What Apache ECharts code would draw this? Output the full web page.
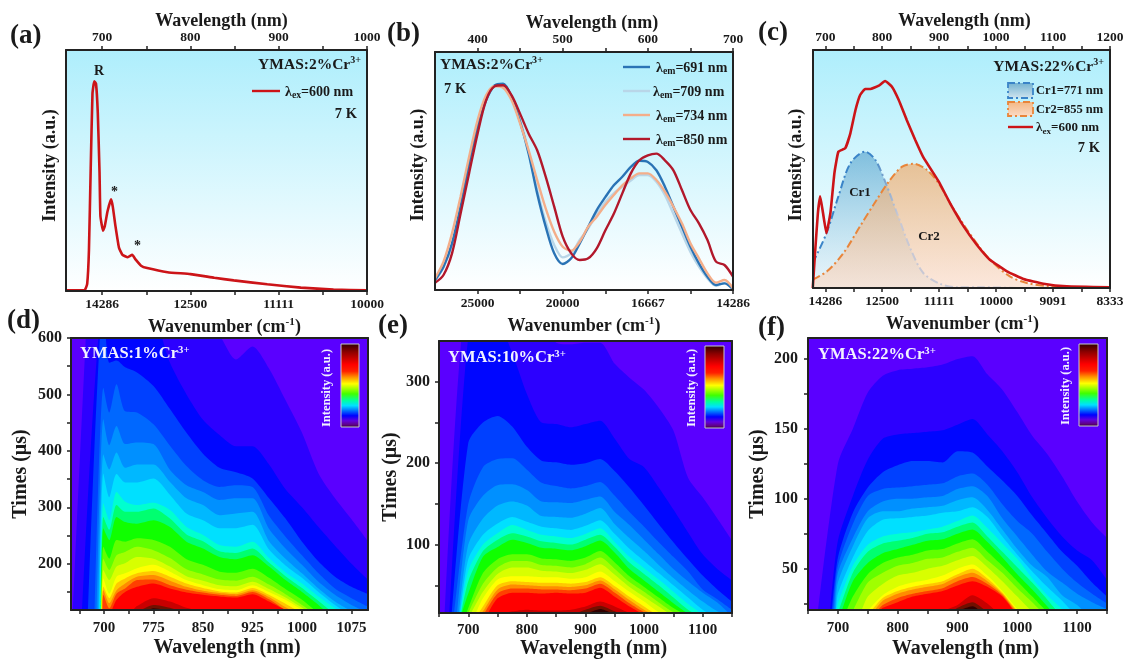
<!DOCTYPE html>
<html><head><meta charset="utf-8">
<style>html,body{margin:0;padding:0;background:#fff}#c{width:1124px;height:660px}</style>
<script src="https://cdn.jsdelivr.net/npm/echarts@6/dist/echarts.min.js"></script>
</head><body><div id="c"></div>
<script>
// ---------- spectra (wavelength nm, intensity %) ----------
const curveA = [[660,.3],[680,.3],[683,3],[685,17],[687,51],[689,82],[691,87],[693,86],[695,74],[697,49],[698,31],[701,25],[703,27],[706,33],[710,38],[712,35],[715,27],[719,18],[723,15],[729,14],[734,15],[738,13],[744,10.5],[751,9.5],[774,7.8],[800,7],[827,5.5],[849,4.4],[887,2.8],[925,1.4],[962,.6],[1000,.3]];
const wavelengthsB = [350,360,370,380,390,400,410,420,430,440,450,460,470,480,490,500,510,520,530,540,550,560,570,580,590,600,610,620,630,640,650,660,670,680,690,700];
const em691 = [4.2,9.8,19.6,35,53,68.5,79.7,86,86.7,81,70.6,57.3,40.6,26.6,15.4,10.9,13.3,19.6,26.6,33.6,39,44,47.6,51.7,54.3,53.8,50.3,43.4,35,26.6,18.2,11.2,5.6,2.1,2.8,.3];
const em709 = [4,9.5,19,35,53,68,79.7,85.6,86,81,71.5,58,42,28.7,18.9,13.7,15.4,21,25.9,32,37,40.6,43.4,46,48.3,48.3,45.5,39.9,32,23.8,16,9.8,4.9,1.8,3,.3];
const em734 = [4.9,11.9,23.8,39.2,55.9,71.3,81.8,85.6,85,79.7,69.9,58.7,46.2,34.3,24.5,18.2,16.5,20.3,26.6,30.8,35.7,39.9,44,46.9,49,49,46.2,41.3,35,28,19.6,13.3,7,3.1,4.2,.7];
const em850 = [3,6.3,15.4,32,49,65.7,79.7,85.6,86,81.8,74,65.7,58.7,47.6,35,22.4,15.4,12.6,13.3,17.5,25,32,40.6,49,54.5,56.6,57.3,54.5,50.3,42,33.6,28,21,11.9,10.5,5.6];
const curveC = [[678,0],[682,14.7],[687,31.5],[691,38.5],[696,31.5],[702,23],[709,31.5],[716,48.3],[723,57.3],[735,58.7],[744,65],[753,74.8],[761,81],[770,83.6],[779,83.6],[794,85],[805,87],[817,84.6],[829,79],[843,70.6],[858,62.2],[872,55],[899,44.8],[919,35.7],[943,25.9],[966,18.2],[989,11.9],[1019,7],[1048,3.8],[1083,1.8],[1124,.7],[1200,.3]];
const cr1 = [[678,10.5],[702,23],[723,38.5],[744,52.4],[770,57.3],[788,53.8],[805,44.8],[826,31.5],[849,16.8],[872,6.3],[902,1.7],[931,.3],[978,.3],[1036,0]];
const cr2 = [[678,3.5],[703,7],[732,14.7],[761,25.9],[790,37],[814,45.5],[835,51],[855,52.2],[878,49.7],[899,44],[919,35.7],[943,26.6],[972,16.8],[995,10.5],[1024,4.9],[1054,2.1],[1094,.7],[1153,.1]];

// ---------- decay maps: wavelength columns, and per contour [start wavelength on the floor, times at later columns...] ----------
const columnsD = [699,708,719,732,750,775,800,825,850,875,900,925,950,975,1000,1025,1050,1075,1100];
const contoursD = [
[653,1085,650,650,650,650,650,650,650,640,605,562,585,546,490,432,360,316,279,240],
[667,662,650,650,650,650,640,556,500,455,428,408,408,376,332,300,265,232,200,172],
[676,660,556,560,548,539,515,474,432,395,370,362,351,316,280,239,204,177,159,146],
[686,512,468,518,470,468,447,409,373,348,336,339,336,285,248,215,183,156,139,124],
[689,456,410,444,412,415,412,366,339,327,313,316,316,262,227,198,168,145,127,113],
[691.5,394,367,397,370,376,376,345,316,304,286,289,292,240,209,183,156,133,116,105],
[693,360,318,359,344,344,351,322,289,277,263,263,269,225,197,175,150,127,108],
[694,307,277,327,310,304,308,295,265,251,233,230,239,210,185,165,142,121,100],
[695,283,260,304,292,292,298,280,252,240,222,219,227,202,178,157,134,110],
[695.5,263,242,283,274,271,277,265,239,227,212,208,215,195,171,150,127,100],
[696,230,209,242,239,245,242,230,208,198,186,184,191,175,155,136,113,100],
[696,209,189,215,221,230,224,210,190,181,172,170,177,163,146,127,108,100],
[696.5,189,171,195,201,212,209,195,178,170,162,160,168,155,140,122,104],
[696.5,174,147,177,183,192,198,186,171,162,155,153,162,150,136,118,100],
[697,159,139,165,174,183,187,177,165,157,151,149,157,145,129,112],
[697,153,130,153,165,177,180,170,159,152,148,146,153,141,123,108],
[698,145,121,147,156,171,172,162,154,149,145,143,150,137,118,105],
[712,136,150,159,165,156,149,145,142,140,146,133,118,105],
[744,125,139,133,122,116,110],
[756,127,122,112],
[768,121,116,110]];
const columnsE = [700,725,750,775,800,825,850,875,900,925,950,975,1000,1025,1050,1075,1100,1125,1150];
const contoursE = [
[660,408,380,380,380,380,380,348,346,348,348,322,305,290,268,240,182,158,132,105],
[668,355,370,370,335,285,250,248,244,248,252,230,205,195,170,143,115,88,70,56],
[672,225,250,258,245,220,203,201,198,200,205,190,170,148,125,103,82,62,45,30],
[676,150,195,205,206,192,176,172,169,172,177,160,140,122,103,85,67,45,33,20],
[681,130,160,173,174,167,153,152,151,155,159,140,124,106,88,70,55,41,29,12],
[684,100,132,148,153,148,135,134,133,138,145,125,108,92,75,59,44,30,18,10],
[686,82,112,126,134,128,122,120,118,123,130,113,95,80,65,50,35,20,10],
[687,68,100,114,124,118,112,110,108,113,120,103,85,71,57,42,27,14],
[688,55,92,106,114,110,104,102,100,106,112,97,78,64,50,35,20,10],
[689,40,85,97,106,102,96,95,93,98,105,90,70,56,42,28,15],
[697,22,65,82,88,88,83,82,80,84,92,78,61,48,35,22,12],
[700,52,72,80,80,75,74,72,76,84,70,54,42,29,17,10],
[705,42,64,72,72,68,67,65,69,76,63,48,36,24,12],
[713,34,57,61,61,60,60,58,60,67,55,42,30,17,10],
[718,24,50,55,54,53,53,52,54,60,49,36,24,12],
[722,18,45,51,50,49,49,48,50,56,45,32,20,10],
[728,40,46,46,45,45,44,46,52,41,28,17,10],
[734,34,41,41,40,41,40,41,47,36,24,14],
[760,18,20,19,19,20,24,30,24,16,10],
[885,20,25,18,10],
[905,21,14]];
const columnsF = [700,725,750,775,800,825,850,875,900,925,950,975,1000,1025,1050,1075,1100,1125,1150];
const contoursF = [
[667,125,150,176,188,192,193,194,196,200,202,189,178,162,145,132,116,98,83,72],
[687,70,102,128,143,146,147,148,149,153,157,146,134,119,101,86,73,63,56,42],
[690,58,90,108,119,124,127,127,126,134,133,123,113,102,88,75,62,52,40,30],
[692,52,82,102,107,108,109,110,111,116,118,110,96,84,75,62,50,40,32,25],
[694,47,72,91,98,100,100,101,102,107,109,102,86,73,60,48,40,32,26,21],
[696,40,66,86,91,91,93,94,95,99,101,92,78,64,52,44,31,24,14,10],
[697,32,58,77,85,86,87,88,90,91,94,87,73,60,48,37,27,16,10],
[698,25,52,67,73,75,76,78,80,84,88,79,68,57,43,31,21,10],
[702,47,62,68,70,72,75,76,80,83,73,62,51,40,28,15],
[707,41,54,61,64,67,70,71,75,78,69,58,46,35,23,10],
[715,30,46,54,58,60,63,64,68,71,62,52,41,30,19,10],
[726,40,47,52,54,57,58,62,65,56,47,36,26,15],
[740,30,39,45,47,50,52,56,59,51,41,30,19,10],
[751,31,37,40,42,45,50,53,45,34,21,10],
[757,29,34,37,39,41,46,50,43,33,20,10],
[762,27,32,35,37,39,44,47,41,32,19,10],
[767,24,29,32,34,36,41,44,39,31,18,10],
[771,22,26,30,32,34,38,41,37,30,17,10],
[880,24,31,25,15],
[895,22,26,19,12],
[905,23,15]];
const levelColors = ['#2c00ff','#0006ff','#0040ff','#0068ff','#0090ff','#00b8ff','#00e0ff','#00ffd0','#00ff70','#10ff00','#60ff00','#a0ff00','#d8ff00','#ffff00','#ffc800','#ff8c00','#ff4000','#ff0000','#c80000','#701000','#300000'];

// ---------- tick labels ----------
const labelsA = [700,800,900,1000], ticksA = [700,750,800,850,900,950,1000];
const labelsB = [400,500,600,700], ticksB = [400,450,500,550,600,650,700];
const labelsC = [700,800,900,1000,1100,1200], ticksC = [700,750,800,850,900,950,1000,1050,1100,1150,1200];
const labelsDx = [700,775,850,925,1000,1075], ticksDx = [662.5,700,737.5,775,812.5,850,887.5,925,962.5,1000,1037.5,1075];
const labelsDy = [200,300,400,500,600], ticksDy = [150,200,250,300,350,400,450,500,550,600];
const labelsEx = [700,800,900,1000,1100], ticksEx = [650,700,750,800,850,900,950,1000,1050,1100,1150];
const labelsEy = [100,200,300], ticksEy = [50,100,150,200,250,300];
const labelsFy = [50,100,150,200], ticksFy = [25,50,75,100,125,150,175,200];

const SERIF = '"Liberation Serif","Times New Roman",serif';
const INK = '#1a1a1a';
const box = [
 {l:66,t:50,r:367,b:291},{l:435,t:52,r:733,b:290},{l:813,t:50,r:1110,b:288},
 {l:71,t:338,r:368,b:610},{l:439,t:341,r:732,b:613},{l:808,t:338,r:1107,b:610}];
const skyFill = {type:'linear',x:0,y:0,x2:0,y2:1,colorStops:[{offset:0,color:'#aeeefc'},{offset:1,color:'#ffffff'}]};
const grid = box.map((g,i)=>({left:g.l,top:g.t,width:g.r-g.l,height:g.b-g.t,show:true,borderWidth:0,
  outerBoundsMode:'none',containLabel:false,backgroundColor:i<3?skyFill:'#5a00ff'}));

const frame = {show:true,onZero:false,lineStyle:{color:'#222',width:2}};
const nameRich = size=>({a:{fontFamily:SERIF,fontWeight:'bold',fontSize:size,color:INK},
  s:{fontFamily:SERIF,fontWeight:'bold',fontSize:size*0.62,color:INK,verticalAlign:'top',lineHeight:size+2}});
function valueAxis(extra){
  return Object.assign({type:'value',scale:true,splitLine:{show:false},z:10,axisLine:frame},extra);
}
function xPair(i,min,max,ticks,labels,opts){
  const wn = v=>String(Math.round(1e7/v));
  return [
   valueAxis({gridIndex:i,min,max,position:'bottom',name:opts.bottomName,nameLocation:'middle',nameGap:opts.gap,
     nameTextStyle:{fontFamily:SERIF,fontWeight:'bold',fontSize:opts.nameSize,color:INK,rich:nameRich(opts.nameSize),padding:[0,0,0,opts.pad||0]},
     axisTick:{show:true,inside:false,length:4,customValues:ticks,lineStyle:{color:'#222',width:1.5}},
     axisLabel:{show:true,customValues:labels,margin:opts.margin,fontFamily:SERIF,fontWeight:'bold',fontSize:opts.tickSize,color:INK,
       formatter:opts.wavenumber?wn:(v=>String(v))}}),
   valueAxis({gridIndex:i,min,max,position:'top',name:opts.topName||'',nameLocation:'middle',nameGap:opts.topGap||0,
     nameTextStyle:{fontFamily:SERIF,fontWeight:'bold',fontSize:opts.nameSize,color:INK,padding:[0,0,0,opts.topPad||0]},
     axisTick:{show:!!opts.topName,inside:false,length:4,customValues:ticks,lineStyle:{color:'#222',width:1.5}},
     axisLabel:{show:!!opts.topName,customValues:labels,margin:5,fontFamily:SERIF,fontWeight:'bold',fontSize:opts.tickSize,color:INK,
       formatter:v=>String(v)}})
  ];
}
function yPair(i,min,max,ticks,labels,name,gap,pad,margin){
  return [
   valueAxis({gridIndex:i,min,max,position:'left',name,nameLocation:'middle',nameGap:gap,
     nameTextStyle:{fontFamily:SERIF,fontWeight:'bold',fontSize:i<3?18:20,color:INK,padding:[0,0,0,pad||0]},
     axisTick:{show:!!ticks,length:4,customValues:ticks||[],lineStyle:{color:'#222',width:1.5}},
     axisLabel:{show:!!labels,customValues:labels||[],margin:margin||6,fontFamily:SERIF,fontWeight:'bold',fontSize:16,color:INK,formatter:v=>String(v)}}),
   valueAxis({gridIndex:i,min,max,position:'right',axisTick:{show:false},axisLabel:{show:false}})
  ];
}
const WN = '{a|Wavenumber (cm}{s|-1}{a|)}';
const topOpts = (pad,topPad,topGap)=>({bottomName:WN,gap:26,nameSize:18,tickSize:13.5,margin:7,wavenumber:true,topName:'Wavelength (nm)',topGap,pad,topPad});
const botOpts = (gap,margin,pad)=>({bottomName:'Wavelength (nm)',gap,nameSize:20,tickSize:15,margin,pad});
const xAxis = [
 ...xPair(0,659,1000,ticksA,labelsA,topOpts(16,10,20)),
 ...xPair(1,350,700,ticksB,labelsB,topOpts(0,16,20)),
 ...xPair(2,678.4,1200,ticksC,labelsC,topOpts(2,6,19)),
 ...xPair(3,650,1100,ticksDx,labelsDx,botOpts(28,11,15)),
 ...xPair(4,650,1150,ticksEx,labelsEx,botOpts(26,10,16)),
 ...xPair(5,650,1150,ticksEx,labelsEx,botOpts(29,11,16))];
const yAxis = [
 ...yPair(0,0,100,null,null,'Intensity (a.u.)',7,10),
 ...yPair(1,0,100,null,null,'Intensity (a.u.)',8,12),
 ...yPair(2,0,100,null,null,'Intensity (a.u.)',8,8),
 ...yPair(3,118,600,ticksDy,labelsDy,'Times (μs)',40,0,9),
 ...yPair(4,16,350,ticksEy,labelsEy,'Times (μs)',38,0,9),
 ...yPair(5,20.4,215,ticksFy,labelsFy,'Times (μs)',40,0,10)];

const series = [];
function lineS(i,data,color,width,extra){
  series.push(Object.assign({type:'line',xAxisIndex:2*i,yAxisIndex:2*i,data,symbol:'none',silent:true,
    lineStyle:{color,width},animation:false},extra||{}));
}
lineS(0,curveA,'#cc1418',2.6,{smooth:.12});
const zip = ys=>wavelengthsB.map((w,k)=>[w,ys[k]]);
const soft={smooth:.3};
lineS(1,zip(em709),'#b9d6e8',2.4,soft);
lineS(1,zip(em691),'#2a73b5',2.4,soft);
lineS(1,zip(em734),'#f4ae8a',2.4,soft);
lineS(1,zip(em850),'#b2182b',2.4,soft);
const vert=(a,b)=>({type:'linear',x:0,y:0,x2:0,y2:1,colorStops:[{offset:0,color:a},{offset:1,color:b}]});
const cr1Line={type:'linear',x:0,y:0,x2:1,y2:0,colorStops:[{offset:0,color:'#3a84c8'},{offset:.3,color:'#3a84c8'},{offset:.42,color:'#c8c8d4'},{offset:1,color:'#c8c8d4'}]};
lineS(2,cr1,cr1Line,2,{smooth:.3,areaStyle:{origin:'start',color:vert('rgba(60,145,195,.78)','rgba(190,225,240,.45)')},lineStyle:{color:cr1Line,width:2,type:[8,3,2,3]}});
lineS(2,cr2,'#e8853a',2,{smooth:.3,areaStyle:{origin:'start',color:vert('rgba(240,165,95,.92)','rgba(250,215,195,.85)')},lineStyle:{color:'#e8853a',width:2,type:[8,3,2,3]}});
lineS(2,curveC,'#cc1418',2.6,{smooth:.12});

function contourSeries(i,columns,contours,floor){
  contours.forEach((row,k)=>{
    const start=row[0], vals=row.slice(1), cols=columns.filter(c=>c>start);
    const data=[[start,floor]];
    vals.forEach((t,n)=>{ if(n<cols.length) data.push([cols[n],t]); });
    series.push({type:'line',xAxisIndex:2*i,yAxisIndex:2*i,data,symbol:'none',silent:true,animation:false,clip:true,
      smooth:.25,
      lineStyle:{width:0},areaStyle:{origin:'start',color:levelColors[k],opacity:1}});
  });
}
contourSeries(3,columnsD,contoursD,118);
contourSeries(4,columnsE,contoursE,16);
contourSeries(5,columnsF,contoursF,20.4);

// ---------- annotations ----------
const rich=(size,fill)=>({
  b:{fontFamily:SERIF,fontWeight:'bold',fontSize:size,fill,lineHeight:size+3},
  u:{fontFamily:SERIF,fontWeight:'bold',fontSize:size*.65,fill,verticalAlign:'top',lineHeight:size+3},
  d:{fontFamily:SERIF,fontWeight:'bold',fontSize:size*.7,fill,verticalAlign:'bottom',lineHeight:size+3}});
function txt(text,x,y,size,opt){
  opt=opt||{};const fill=opt.fill||INK;
  return {type:'text',x,y,z:100,rotation:opt.rot||0,silent:true,style:{text,fontFamily:SERIF,fontWeight:'bold',fontSize:size,fill,
    align:opt.align||'left',verticalAlign:'middle',rich:rich(size,fill)}};
}
function seg(x1,x2,y,color,w,dash){
  return {type:'line',z:100,silent:true,shape:{x1,y1:y,x2,y2:y},style:{stroke:color,lineWidth:w||2.4,lineDash:dash||null}};
}
function bar(x,y,w,h){
  return {type:'rect',z:100,silent:true,shape:{x,y,width:w,height:h},style:{stroke:'#c8c8c8',lineWidth:1,
    fill:new echarts.graphic.LinearGradient(0,0,0,1,[
     {offset:0,color:'#2a0000'},{offset:.1,color:'#8c0000'},{offset:.25,color:'#ff0000'},{offset:.33,color:'#ff2000'},{offset:.4,color:'#ff9000'},{offset:.48,color:'#ffff00'},{offset:.6,color:'#40ff00'},{offset:.68,color:'#00ffa0'},{offset:.74,color:'#00e0ff'},{offset:.8,color:'#0070ff'},{offset:.86,color:'#0000ff'},{offset:.92,color:'#6000e0'},{offset:.97,color:'#600080'},{offset:1,color:'#200020'}])}};
}
const swatch=(x,y,w,h,a,b,line)=>({type:'rect',z:100,silent:true,shape:{x,y,width:w,height:h},
  style:{fill:new echarts.graphic.LinearGradient(0,0,0,1,[{offset:0,color:a},{offset:1,color:b}]),stroke:line,lineWidth:1.8,lineDash:[7,3,2,3]}});
const graphicEls = [
 txt('(a)',10,36,27),txt('(b)',387,34,27),txt('(c)',758,33,27),txt('(d)',7,321,27),txt('(e)',378,326,27),txt('(f)',758,328,27),
 // panel a
 txt('{b|YMAS:2%Cr}{u|3+}',361,65,15.5,{align:'right'}),seg(252,280,91,'#cc1418'),txt('{b|λ}{d|ex}{b|=600 nm}',285,92,14),txt('7 K',357,114,14.5,{align:'right'}),
 txt('R',94,71,14),txt('*',111,192,14),txt('*',134,246,14),
 // panel b
 txt('{b|YMAS:2%Cr}{u|3+}',440,65,15.5),txt('7 K',444,89,14.5),
 seg(623,650,67,'#2a73b5'),txt('{b|λ}{d|em}{b|=691 nm}',656,68,14),
 seg(623,650,91,'#b9d6e8'),txt('{b|λ}{d|em}{b|=709 nm}',653,92,14),
 seg(623,650,115,'#f4ae8a'),txt('{b|λ}{d|em}{b|=734 nm}',656,116,14),
 seg(623,650,139,'#b2182b'),txt('{b|λ}{d|em}{b|=850 nm}',656,140,14),
 // panel c
 txt('{b|YMAS:22%Cr}{u|3+}',1104,67,15.5,{align:'right'}),
 swatch(1008,83,25,15,'#6fb0cf','#d3e6f0','#3a84c8'),txt('Cr1=771 nm',1036,91,12.5),
 swatch(1008,102,25,14,'#f3b681','#fbdcc8','#e8853a'),txt('Cr2=855 nm',1036,110,12.5),
 seg(1008,1033,127,'#cc1418'),txt('{b|λ}{d|ex}{b|=600 nm}',1036,128,13),txt('7 K',1100,148,14.5,{align:'right'}),
 txt('Cr1',860,193,13,{align:'center'}),txt('Cr2',929,237,13,{align:'center'}),
 // panel d-f
 txt('{b|YMAS:1%Cr}{u|3+}',80,354,16.5,{fill:'#f2f2ff'}),txt('{b|YMAS:10%Cr}{u|3+}',448,358,16.5,{fill:'#f2f2ff'}),txt('{b|YMAS:22%Cr}{u|3+}',818,355,16.5,{fill:'#f2f2ff'}),
 bar(341,344,18,83),bar(705,346,19,82),bar(1079,344,19,82),
 txt('Intensity (a.u.)',327,388,12.5,{rot:Math.PI/2,align:'center',fill:'#f2f2ff'}),
 txt('Intensity (a.u.)',692,388,12.5,{rot:Math.PI/2,align:'center',fill:'#f2f2ff'}),
 txt('Intensity (a.u.)',1066,386,12.5,{rot:Math.PI/2,align:'center',fill:'#f2f2ff'})
];

const chart = echarts.init(document.getElementById('c'),null,{renderer:'canvas'});
chart.setOption({animation:false,backgroundColor:'#fff',grid,xAxis,yAxis,series,graphic:{elements:graphicEls}});
</script></body></html>
